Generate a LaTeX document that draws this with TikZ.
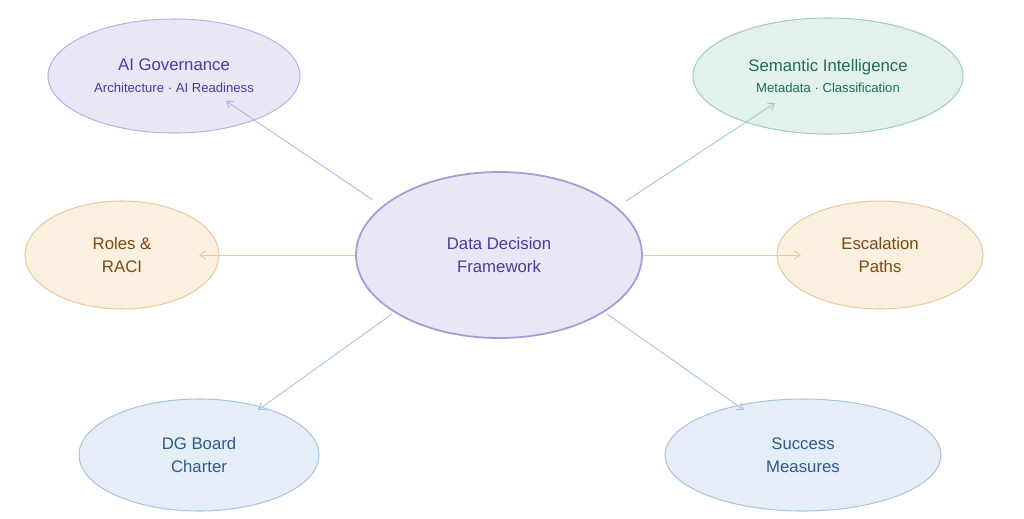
\documentclass[tikz,border=0pt]{standalone}
\usepackage{fontspec}
\setmainfont{Liberation Sans}
\usetikzlibrary{shapes.geometric,arrows.meta}
\definecolor{purpfill}{HTML}{E9E6F6}
\definecolor{purpline}{HTML}{BDB3E3}
\definecolor{purptext}{HTML}{4B3B9A}
\definecolor{greenfill}{HTML}{E3F1EB}
\definecolor{greenline}{HTML}{A2CFBC}
\definecolor{greentext}{HTML}{1F6E55}
\definecolor{orangefill}{HTML}{FBEFE0}
\definecolor{orangeline}{HTML}{E9CB9E}
\definecolor{orangetext}{HTML}{7A4A10}
\definecolor{bluefill}{HTML}{E5EEF7}
\definecolor{blueline}{HTML}{ABC5DE}
\definecolor{bluetext}{HTML}{2E5A8A}
\newcommand{\subfont}{\fontsize{11.2}{14}\selectfont}
\tikzset{
  bubble/.style={ellipse, draw, line width=0.9pt, inner sep=0pt, align=center,
    font=\fontsize{14.3}{19.5}\selectfont},
  purpbubble/.style={bubble, fill=purpfill, draw=purpline, text=purptext},
  greenbubble/.style={bubble, fill=greenfill, draw=greenline, text=greentext},
  orangebubble/.style={bubble, fill=orangefill, draw=orangeline, text=orangetext},
  bluebubble/.style={bubble, fill=bluefill, draw=blueline, text=bluetext},
  spoke/.style={line width=0.8pt, -{Straight Barb[length=5pt,width=7pt]}}
}
\begin{document}
\begin{tikzpicture}[x=0.03cm, y=-0.03cm]
  \useasboundingbox (0,0) rectangle (1024,518);

  % satellites
  \node[purpbubble, minimum width=7.56cm, minimum height=3.42cm] (gov) at (174,76)
    {AI Governance\\[-1pt]{\subfont Architecture · AI Readiness}};
  \node[greenbubble, minimum width=8.1cm, minimum height=3.48cm] (sem) at (828,76)
    {Semantic Intelligence\\[-1pt]{\subfont Metadata · Classification}};
  \node[orangebubble, minimum width=5.82cm, minimum height=3.24cm] (raci) at (122,255)
    {Roles \&\\RACI};
  \node[orangebubble, minimum width=6.18cm, minimum height=3.24cm] (esc) at (880,255)
    {Escalation\\Paths};
  \node[bluebubble, minimum width=7.2cm, minimum height=3.36cm] (board) at (199,455)
    {DG Board\\Charter};
  \node[bluebubble, minimum width=8.28cm, minimum height=3.36cm] (meas) at (803,455)
    {Success\\Measures};

  % centre
  \node[purpbubble, draw=purpline!80!purptext, line width=1.5pt,
    minimum width=8.58cm, minimum height=4.98cm] (core) at (499,255)
    {Data Decision\\Framework};

  % arrow ends
  \coordinate (govfoot) at (373,200);
  \coordinate (semfoot) at (626,201);
  \coordinate (boardfoot) at (392,314);
  \coordinate (measfoot) at (607,314);
  \coordinate (govtip) at (226,101);
  \coordinate (semtip) at (775,103);
  \coordinate (racitip) at (199,255);
  \coordinate (esctip) at (801,255);
  \coordinate (boardtip) at (258,410);
  \coordinate (meastip) at (744,410);

  \draw[spoke, purpline] (govfoot) -- (govtip);
  \draw[spoke, greenline] (semfoot) -- (semtip);
  \draw[spoke, orangeline] (core) -- (racitip);
  \draw[spoke, orangeline] (core) -- (esctip);
  \draw[spoke, blueline] (boardfoot) -- (boardtip);
  \draw[spoke, blueline] (measfoot) -- (meastip);
\end{tikzpicture}
\end{document}
